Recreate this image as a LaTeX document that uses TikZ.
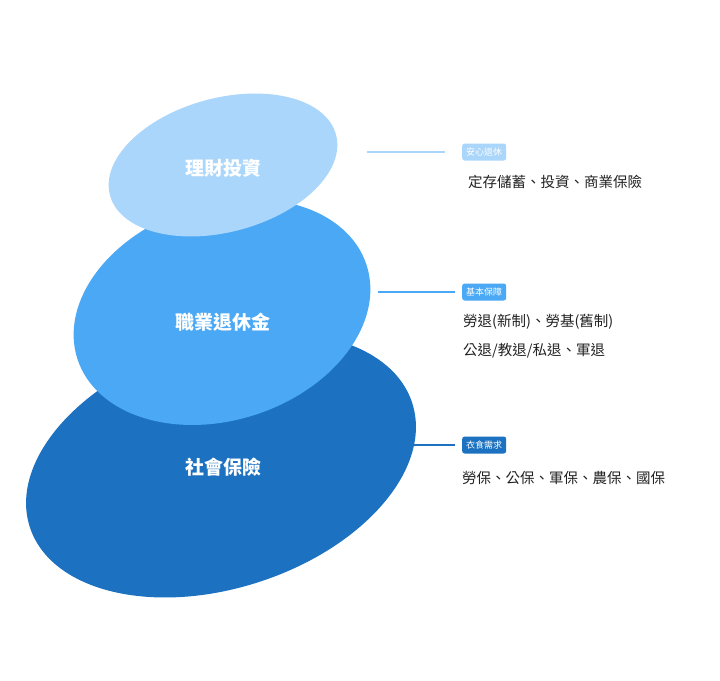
\documentclass[tikz,border=0pt]{standalone}
\usepackage{fontspec}
\setmainfont{Noto Sans CJK TC}
\newfontfamily\cjkb[BoldFont={Noto Sans CJK TC Bold}]{Noto Sans CJK TC}
\definecolor{cdark}{HTML}{1C72C0}
\definecolor{cmid}{HTML}{4AA8F5}
\definecolor{clight}{HTML}{AAD6FB}
\definecolor{ctext}{HTML}{222222}
\tikzset{
  title/.style={text=white,font=\fontsize{19}{22}\selectfont\bfseries},
  tag/.style={rounded corners=2.5pt,text=white,font=\fontsize{9}{10}\selectfont,inner xsep=4pt,inner ysep=2pt,anchor=west,minimum height=17pt},
  body/.style={text=ctext,font=\fontsize{14.5}{16}\selectfont,anchor=west,inner sep=0pt},
  conn/.style={line width=2.2pt}
}
\begin{document}
\begin{tikzpicture}[x=1pt,y=-1pt]
\useasboundingbox[fill=white] (0,0) rectangle (720,680);
\fill[cdark,rotate around={18:(221,465)}] (221,465) ellipse [x radius=201,y radius=123];
\fill[cmid,rotate around={18:(222,312)}] (222,312) ellipse [x radius=152,y radius=108];
\fill[clight,rotate around={15:(223,165)}] (223,165) ellipse [x radius=117,y radius=67];
\node[title] (t1) at (223,168) {理財投資};
\node[title] (t2) at (223,322) {職業退休金};
\node[title] (t3) at (223,467) {社會保險};
\coordinate (a1) at (367,152);
\coordinate (a2) at (378,292);
\coordinate (a3) at (410,445);
\node[tag,fill=clight] (g1) at (462,152) {安心退休};
\node[tag,fill=cmid] (g2) at (462,292) {基本保障};
\node[tag,fill=cdark] (g3) at (462,445) {衣食需求};
\draw[conn,clight] (a1) -- ([xshift=-17pt]g1.west);
\draw[conn,cmid] (a2) -- ([xshift=-7pt]g2.west);
\draw[conn,cdark] (a3) -- ([xshift=-7pt]g3.west);
\node[body] (b1) at (468,182) {定存儲蓄、投資、商業保險};
\node[body] (b2) at (463,322) {勞退(新制)、勞基(舊制)};
\node[body] (b3) at (463,351) {公退/教退/私退、軍退};
\node[body] (b4) at (462,478) {勞保、公保、軍保、農保、國保};
\end{tikzpicture}
\end{document}
